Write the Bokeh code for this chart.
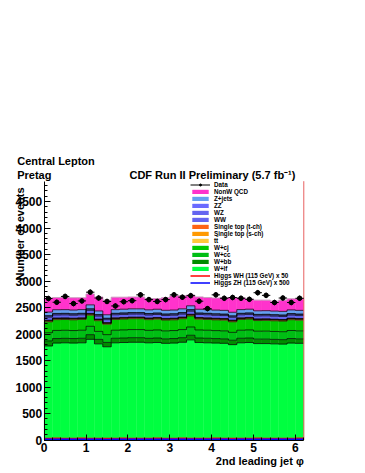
import numpy as np
from bokeh.plotting import figure
from bokeh.models import Label, Legend, LegendItem, SingleIntervalTicker
from bokeh.embed import file_html
from bokeh.resources import INLINE

# ---- data (31 bins of 2nd leading jet phi, width 0.2) ----
bin_edges = [0.0, 0.2, 0.4, 0.6, 0.8, 1.0, 1.2, 1.4, 1.6, 1.8, 2.0, 2.2, 2.4, 2.6, 2.8, 3.0,
             3.2, 3.4, 3.6, 3.8, 4.0, 4.2, 4.4, 4.6, 4.8, 5.0, 5.2, 5.4, 5.6, 5.8, 6.0, 6.2]

data = [2670, 2600, 2710, 2575, 2625, 2790, 2680, 2615, 2530, 2610, 2630, 2740, 2650, 2615, 2650, 2740,
        2695, 2725, 2620, 2480, 2740, 2675, 2690, 2675, 2655, 2780, 2730, 2595, 2680, 2595, 2675]

w_lf = [1775, 1830, 1835, 1830, 1835, 1900, 1815, 1760, 1835, 1840, 1845, 1845, 1835, 1840, 1825, 1830,
        1845, 1890, 1840, 1835, 1830, 1825, 1800, 1835, 1840, 1820, 1820, 1815, 1810, 1830, 1825]
w_bb = [95, 85, 84, 85, 85, 88, 84, 82, 85, 85, 86, 86, 84, 85, 84, 85,
        86, 87, 85, 85, 84, 84, 83, 85, 85, 84, 84, 84, 84, 85, 84]
w_cc = [155, 153, 152, 151, 152, 158, 151, 147, 152, 153, 153, 153, 151, 152, 151, 151,
        153, 156, 152, 152, 151, 151, 149, 152, 153, 150, 151, 150, 150, 152, 151]
w_cj = [205, 204, 203, 202, 203, 210, 202, 197, 203, 204, 205, 205, 202, 204, 203, 202,
        205, 208, 204, 203, 202, 202, 199, 203, 204, 201, 202, 201, 200, 203, 202]
ttbar = [18, 18, 18, 18, 18, 19, 18, 17, 18, 18, 18, 18, 18, 18, 18, 18,
         18, 19, 18, 18, 18, 18, 17, 18, 18, 18, 18, 18, 18, 18, 18]
stop_s = [4, 4, 4, 4, 4, 4, 4, 4, 4, 4, 4, 4, 4, 4, 4, 4,
          4, 4, 4, 4, 4, 4, 4, 4, 4, 4, 4, 4, 4, 4, 4]
stop_t = [9, 9, 9, 9, 9, 9, 9, 9, 9, 9, 9, 9, 9, 9, 9, 9,
          9, 9, 9, 9, 9, 9, 9, 9, 9, 9, 9, 9, 9, 9, 9]
ww = [57, 57, 57, 56, 57, 59, 56, 55, 57, 57, 57, 57, 56, 57, 56, 56,
      57, 58, 57, 57, 56, 56, 55, 57, 57, 56, 56, 56, 56, 57, 56]
wz = [21, 21, 21, 21, 21, 22, 21, 20, 21, 21, 21, 21, 21, 21, 21, 21,
      21, 22, 21, 21, 21, 21, 20, 21, 21, 21, 21, 21, 21, 21, 21]
zz = [8, 8, 8, 8, 8, 8, 8, 8, 8, 8, 8, 8, 8, 8, 8, 8,
      8, 8, 8, 8, 8, 8, 8, 8, 8, 8, 8, 8, 8, 8, 8]
z_jets = [68, 70, 69, 69, 69, 74, 68, 65, 69, 70, 70, 70, 69, 70, 69, 69,
          70, 72, 70, 69, 69, 69, 67, 69, 70, 68, 68, 68, 68, 69, 69]
nonw_qcd = [265, 231, 235, 232, 224, 205, 264, 275, 234, 226, 224, 224, 213, 202, 237, 267,
            249, 203, 232, 229, 228, 243, 278, 224, 191, 201, 199, 186, 212, 209, 218]
higgs_wh_x50 = [30, 31, 30, 30, 31, 30, 30, 29, 30, 31, 30, 30, 30, 31, 30, 30,
                31, 30, 30, 30, 31, 30, 29, 30, 30, 31, 30, 30, 30, 30, 31]
higgs_zh_x500 = [12, 12, 12, 12, 12, 12, 12, 11, 12, 12, 12, 12, 12, 12, 12, 12,
                 12, 12, 12, 12, 12, 12, 11, 12, 12, 12, 12, 12, 12, 12, 12]

y_axis_max = 4885

# stacking order: bottom -> top
stack = [
    ("W+lf", w_lf, "#00ff40"),
    ("W+bb", w_bb, "#008c00"),
    ("W+cc", w_cc, "#00be14"),
    ("W+cj", w_cj, "#00c800"),
    ("tt\u0304", ttbar, "#ffc83c"),
    ("Single top (s-ch)", stop_s, "#ff9900"),
    ("Single top (t-ch)", stop_t, "#ff6414"),
    ("WW", ww, "#6464f0"),
    ("WZ", wz, "#6464f0"),
    ("ZZ", zz, "#6a6aff"),
    ("Z+jets", z_jets, "#64a0f0"),
    ("NonW QCD", nonw_qcd, "#ff33cc"),
]

FONT = "Liberation Sans"

# the frame covers the whole figure; axes are pinned at x=0 / y=0 with bounds
p = figure(width=365, height=473, output_backend="svg", toolbar_location=None,
           x_range=(-1.0437, 7.6737), y_range=(-632.3, 8295.7),
           min_border=0, min_border_left=0, min_border_right=0,
           min_border_top=0, min_border_bottom=0)
p.outline_line_color = None
p.xgrid.visible = False
p.ygrid.visible = False
p.background_fill_color = "white"
p.border_fill_color = "white"

edges = np.array(bin_edges)
def ext(a):
    a = np.asarray(a, dtype=float)
    return np.append(a, a[-1])

lower = np.zeros(len(data))
boxes = {}
for name, vals, col in stack:
    upper = lower + np.array(vals, dtype=float)
    boxes[name] = p.quad(left=edges[:-1], right=edges[1:], bottom=lower, top=upper,
                         fill_color=col, line_color=col, line_width=0.4)
    lower = upper
lower = np.zeros(len(data))
for name, vals, col in stack:
    upper = lower + np.array(vals, dtype=float)
    lc = "#b4b4b4" if name == "NonW QCD" else "black"
    p.step(x=edges, y=ext(upper), mode="after", line_color=lc, line_width=0.7)
    lower = upper

r_wh = p.step(x=edges, y=ext(higgs_wh_x50), mode="after", line_color="#ff0000", line_width=1.5)
r_zh = p.step(x=edges, y=ext(higgs_zh_x500), mode="after", line_color="#0000ff", line_width=1.5)

# right frame edge
p.segment(x0=[bin_edges[-1]], x1=[bin_edges[-1]], y0=[0], y1=[y_axis_max],
          line_color="#e86060", line_width=1)

# data points
centers = (edges[:-1] + edges[1:]) / 2
d = np.array(data, dtype=float)
err = np.sqrt(d)
r_eb = p.segment(x0=centers, x1=centers, y0=d - err, y1=d + err, line_color="black", line_width=1)
p.segment(x0=edges[:-1], x1=edges[1:], y0=d, y1=d, line_color="black", line_width=1)
r_pt = p.scatter(x=centers, y=d, size=4.5, marker="circle", fill_color="black", line_color="black")

# axes
for ax in (p.xaxis[0], p.yaxis[0]):
    ax.fixed_location = 0
    ax.major_tick_in = 6
    ax.major_tick_out = 0
    ax.minor_tick_in = 3
    ax.minor_tick_out = 0
    ax.major_label_text_font = FONT
    ax.major_label_text_font_style = "bold"
    ax.major_label_text_font_size = "12px"
    ax.major_label_text_color = "black"
    ax.axis_line_color = "black"
    ax.major_tick_line_color = "black"
    ax.minor_tick_line_color = "black"
p.yaxis[0].bounds = (0, y_axis_max)
p.xaxis[0].bounds = (bin_edges[0], bin_edges[-1])
p.yaxis[0].ticker = SingleIntervalTicker(interval=500, num_minor_ticks=5)
p.xaxis[0].ticker = SingleIntervalTicker(interval=1, num_minor_ticks=5)
p.yaxis[0].major_label_standoff = 2
p.xaxis[0].major_label_standoff = 3

def lab(x, y, text, size="11px", align="left", baseline="alphabetic", angle=0.0):
    p.add_layout(Label(x=x, y=y, text=text, text_font=FONT, text_font_style="bold",
                       text_font_size=size, text_align=align, text_baseline=baseline,
                       angle=angle, text_color="black"))

lab(-0.645, 5262, "Central Lepton")
lab(-0.645, 5006, "Pretag")
lab(6.0, 5006, "CDF Run II Preliminary (5.7 fb\u207b\u00b9)", align="right")
lab(-0.578, 4766, "Number of events", align="right", angle=np.pi / 2)
lab(6.2, -387, "2nd leading jet \u03c6", align="right", baseline="middle")

# legend
items = [LegendItem(label="Data", renderers=[r_eb, r_pt])]
for name in ["NonW QCD", "Z+jets", "ZZ", "WZ", "WW", "Single top (t-ch)", "Single top (s-ch)",
             "tt\u0304", "W+cj", "W+cc", "W+bb", "W+lf"]:
    items.append(LegendItem(label=name, renderers=[boxes[name]]))
items.append(LegendItem(label="Higgs WH (115 GeV) x 50", renderers=[r_wh]))
items.append(LegendItem(label="Higgs ZH (115 GeV) x 500", renderers=[r_zh]))

leg = Legend(items=items, location=(190, 187), border_line_color=None,
             background_fill_alpha=0.0, padding=0, margin=0, spacing=0,
             glyph_width=20, glyph_height=5, label_height=5, label_standoff=4,
             label_text_font=FONT, label_text_font_style="bold", label_text_font_size="6.3px",
             label_text_color="black", label_text_line_height=0.945)
p.add_layout(leg)

open("out.html", "w").write(file_html(p, INLINE))
